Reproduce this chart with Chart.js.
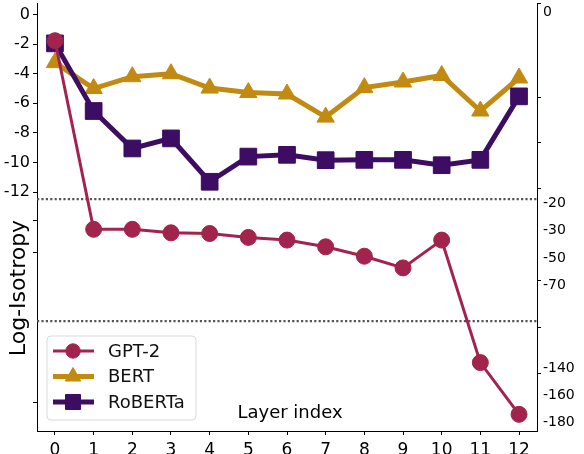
<!DOCTYPE html>
<html>
<head>
<meta charset="utf-8">
<script src="https://cdn.jsdelivr.net/npm/chart.js@4.4.1/dist/chart.umd.min.js"></script>
<style>
  html, body { margin: 0; padding: 0; background: #fff; }
  #wrap { width: 584px; height: 454px; position: relative; }
</style>
</head>
<body>
<div id="wrap"><canvas id="grafico"></canvas></div>
<script>
// data
const layers = [0, 1, 2, 3, 4, 5, 6, 7, 8, 9, 10, 11, 12]
const gpt2 = [-1.77, -29.7, -29.7, -31.9, -32.4, -35.2, -37.1, -41.9, -48.6, -57.2, -37.1, -135.8, -174.1]
const bert = [-3.25, -5.0, -4.2, -4.0, -4.97, -5.27, -5.37, -6.93, -4.94, -4.56, -4.12, -6.52, -4.29]
const roberta = [-1.95, -6.52, -9.05, -8.37, -11.3, -9.6, -9.48, -9.84, -9.82, -9.82, -10.18, -9.82, -5.53]

// left axis: labelled ticks and bare tick marks
const leftLabels = [0, -2, -4, -6, -8, -10, -12]
const leftMarks = [-26.3, -45.7, -165.2]
// right axis: labels and bare tick marks (they do not line up in the original)
const rightLabelValues = [0.12, -20, -30, -50, -70, -140, -160, -180]
const rightLabelText = ['0', '-20', '-30', '-50', '-70', '-140', '-160', '-180']
const rightMarks = [0.78, -5.58, -8.62, -11.73, -66.3, -109.5, -143.7]

// where the axis is broken
const breaks = [-12.48, -105]

// broken axis: value -> fraction of the plot height (piecewise)
const knotValues = [0.78, 0, -12, -12.48, -20, -30, -50, -70, -105, -140, -180, -186.4]
const knotFracs = [0, 0.0269, 0.4419, 0.4583, 0.4676, 0.5307, 0.5962, 0.6593, 0.7435, 0.8534, 0.9797, 1]

function interp(x, xs, ys) {
    for (let i = 0; i < xs.length - 1; i++) {
        const a = xs[i], b = xs[i + 1]
        if ((x - a) * (x - b) <= 0 && a !== b) {
            return ys[i] + (x - a) / (b - a) * (ys[i + 1] - ys[i])
        }
    }
    // outside: extend the last segment
    const n = xs.length - 1
    return ys[n - 1] + (x - xs[n - 1]) / (xs[n] - xs[n - 1]) * (ys[n] - ys[n - 1])
}

class BrokenScale extends Chart.LinearScale {
    getPixelForValue(value) {
        if (value === null || value === undefined) return NaN
        return this.top + interp(value, knotValues, knotFracs) * (this.bottom - this.top)
    }
    getValueForPixel(pixel) {
        const f = (pixel - this.top) / (this.bottom - this.top)
        return interp(f, knotFracs, knotValues)
    }
}
BrokenScale.id = 'broken'
BrokenScale.defaults = Chart.LinearScale.defaults
Chart.register(BrokenScale)

const cores = {
    gpt2: '#A2234C',
    bert: '#C28A10',
    roberta: '#3D0C63'
}
const fonte = 'DejaVu Sans'

function pontos(vals) {
    return layers.map((l, i) => ({ x: l, y: vals[i] }))
}

const datasets = [
    {
        label: 'GPT-2', data: pontos(gpt2), order: 0,
        borderColor: cores.gpt2, backgroundColor: cores.gpt2, borderWidth: 3,
        pointStyle: 'circle', pointRadius: 8, pointBorderWidth: 1
    },
    {
        label: 'BERT', data: pontos(bert), order: 2,
        borderColor: cores.bert, backgroundColor: cores.bert, borderWidth: 5,
        pointStyle: 'triangle', pointRadius: 10, pointBorderWidth: 1
    },
    {
        label: 'RoBERTa', data: pontos(roberta), order: 1,
        borderColor: cores.roberta, backgroundColor: cores.roberta, borderWidth: 5,
        pointStyle: 'rect', pointRadius: 11.8, pointBorderWidth: 1
    }
]
const legendOrder = [0, 1, 2]

// no extra room for the outer tick labels
function semPadding(scale) {
    scale.paddingTop = 0
    scale.paddingBottom = 0
    scale.paddingLeft = 0
    scale.paddingRight = 0
}

const decor = {
    id: 'decor',
    beforeDatasetsDraw(chart) {
        const { ctx, chartArea } = chart
        const y = chart.scales.y
        ctx.save()
        ctx.strokeStyle = '#555'
        ctx.lineWidth = 2.2
        ctx.setLineDash([2.2, 2.2])
        breaks.forEach(b => {
            const py = y.getPixelForValue(b)
            ctx.beginPath()
            ctx.moveTo(chartArea.left, py)
            ctx.lineTo(chartArea.right, py)
            ctx.stroke()
        })
        ctx.restore()
    },
    afterDraw(chart) {
        const { ctx, chartArea } = chart
        ctx.save()
        // y title
        ctx.fillStyle = '#000'
        ctx.font = `22px "${fonte}"`
        ctx.textAlign = 'center'
        ctx.textBaseline = 'alphabetic'
        ctx.translate(25, 288)
        ctx.rotate(-Math.PI / 2)
        ctx.fillText('Log-Isotropy', 0, 0)
        ctx.restore()

        // x title sits inside the plot
        ctx.save()
        ctx.fillStyle = '#000'
        ctx.font = `18px "${fonte}"`
        ctx.textAlign = 'center'
        ctx.textBaseline = 'alphabetic'
        ctx.fillText('Layer index', (chartArea.left + chartArea.right) / 2 + 3, chartArea.bottom - 13)
        ctx.restore()

        // legend
        const bx = chartArea.left + 10, by = chartArea.bottom - 95, bw = 149, bh = 84
        ctx.save()
        ctx.beginPath()
        ctx.roundRect(bx, by, bw, bh, 4)
        ctx.fillStyle = 'rgba(255,255,255,0.8)'
        ctx.fill()
        ctx.strokeStyle = '#d9d9d9'
        ctx.lineWidth = 1
        ctx.stroke()
        legendOrder.forEach((d, i) => {
            const ds = chart.data.datasets[d]
            const ry = by + 15 + i * 25.5
            ctx.strokeStyle = ds.borderColor
            ctx.lineWidth = ds.borderWidth
            ctx.beginPath()
            ctx.moveTo(bx + 6, ry)
            ctx.lineTo(bx + 47, ry)
            ctx.stroke()
            ctx.fillStyle = ds.backgroundColor
            ctx.lineWidth = ds.pointBorderWidth
            Chart.helpers.drawPoint(ctx, {
                pointStyle: ds.pointStyle, radius: ds.pointRadius * 0.9,
                rotation: 0, borderWidth: ds.pointBorderWidth
            }, bx + 26, ry)
            ctx.fillStyle = '#111'
            ctx.font = `18px "${fonte}"`
            ctx.textAlign = 'left'
            ctx.textBaseline = 'middle'
            ctx.fillText(ds.label, bx + 61, ry + 1)
        })
        ctx.restore()
    }
}

Chart.defaults.font.family = fonte
Chart.defaults.color = '#000'

new Chart(document.getElementById('grafico'), {
    type: 'line',
    data: { datasets: datasets },
    options: {
        responsive: true,
        maintainAspectRatio: false,
        animation: false,
        events: [],
        layout: { autoPadding: false, padding: { top: 3, left: 0, right: 0, bottom: 0 } },
        plugins: { legend: { display: false }, tooltip: { enabled: false } },
        scales: {
            x: {
                type: 'linear',
                min: -0.465,
                max: 12.465,
                afterBuildTicks: (scale) => { scale.ticks = layers.map(v => ({ value: v })) },
                afterFit: (scale) => { scale.height = 23; semPadding(scale) },
                grid: { drawOnChartArea: false, tickLength: 4, tickColor: '#000' },
                border: { color: '#000', width: 1 },
                ticks: { font: { size: 17 }, padding: 5, maxRotation: 0, autoSkip: false, color: '#000' }
            },
            y: {
                type: 'broken',
                position: 'left',
                min: -186.4,
                max: 0.78,
                afterBuildTicks: (scale) => {
                    scale.ticks = leftLabels.concat(leftMarks).map(v => ({ value: v }))
                },
                afterFit: (scale) => { scale.width = 37; semPadding(scale) },
                grid: { drawOnChartArea: false, tickLength: 4, tickColor: '#000' },
                border: { color: '#000', width: 1 },
                ticks: {
                    font: { size: 16 }, padding: 3, autoSkip: false, color: '#000',
                    callback: (v) => leftLabels.includes(v) ? String(v) : ''
                }
            },
            y2: {
                type: 'broken',
                position: 'right',
                min: -186.4,
                max: 0.78,
                afterBuildTicks: (scale) => {
                    scale.ticks = rightLabelValues.concat(rightMarks).map(v => ({ value: v }))
                },
                afterFit: (scale) => { scale.width = 47; semPadding(scale) },
                grid: {
                    drawOnChartArea: false, tickLength: 4,
                    tickColor: (ctx) => (ctx.tick && rightMarks.includes(ctx.tick.value)) ? '#000' : 'rgba(0,0,0,0)'
                },
                border: { color: '#000', width: 1 },
                ticks: {
                    font: { size: 14 }, padding: 2, autoSkip: false, color: '#000',
                    callback: (v, i) => i < rightLabelText.length ? rightLabelText[i] : ''
                }
            }
        }
    },
    plugins: [decor]
})
</script>
</body>
</html>
